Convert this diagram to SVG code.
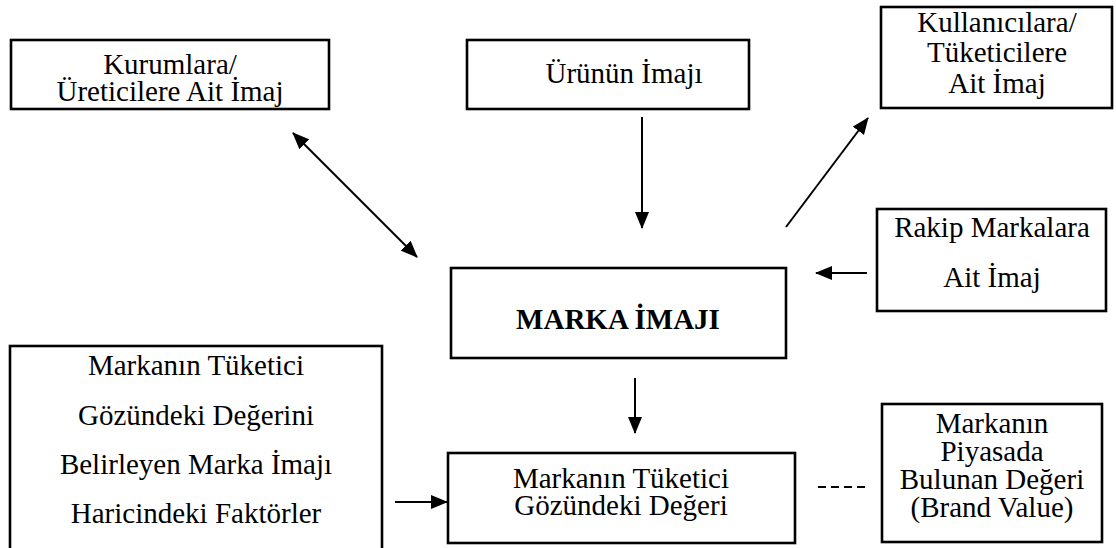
<svg xmlns="http://www.w3.org/2000/svg" width="1116" height="548" viewBox="0 0 1116 548">
<style>
.box{fill:#fff;stroke:#000;stroke-width:2.6}
.t{font-family:"Liberation Serif","Times New Roman",serif;font-size:29px;fill:#000;text-anchor:middle}
.b{font-weight:bold}
.c{stroke:#000;stroke-width:2;fill:none}
</style>
<defs>
<marker id="ah" markerUnits="userSpaceOnUse" markerWidth="17" markerHeight="14" refX="16" refY="7" orient="auto-start-reverse">
<path d="M0,0 L17,7 L0,14 z" fill="#000"/>
</marker>
</defs>
<rect width="1116" height="548" fill="#fff"/>
<g id="n-kurum">
<rect class="box" x="11" y="40" width="318" height="69"/>
<text class="t" x="170" y="74">Kurumlara/</text>
<text class="t" x="170" y="101">Üreticilere Ait İmaj</text>
</g>
<g id="n-urun">
<rect class="box" x="467" y="40" width="282" height="69"/>
<text class="t" x="624" y="83">Ürünün İmajı</text>
</g>
<g id="n-kullanici">
<rect class="box" x="881" y="7" width="231" height="101"/>
<text class="t" x="997" y="32">Kullanıcılara/</text>
<text class="t" x="997" y="62">Tüketicilere</text>
<text class="t" x="997" y="93">Ait İmaj</text>
</g>
<g id="n-rakip">
<rect class="box" x="877" y="209" width="229" height="102"/>
<text class="t" x="992" y="237">Rakip Markalara</text>
<text class="t" x="992" y="287">Ait İmaj</text>
</g>
<g id="n-marka">
<rect class="box" x="451" y="268" width="335" height="90"/>
<text class="t b" x="618" y="329">MARKA İMAJI</text>
</g>
<g id="n-faktor">
<rect class="box" x="10" y="346" width="372" height="220"/>
<text class="t" x="196" y="375">Markanın Tüketici</text>
<text class="t" x="196" y="425">Gözündeki Değerini</text>
<text class="t" x="196" y="474">Belirleyen Marka İmajı</text>
<text class="t" x="196" y="523">Haricindeki Faktörler</text>
</g>
<g id="n-deger">
<rect class="box" x="448" y="453" width="347" height="90"/>
<text class="t" x="621" y="488">Markanın Tüketici</text>
<text class="t" x="621" y="515">Gözündeki Değeri</text>
</g>
<g id="n-piyasa">
<rect class="box" x="882" y="404" width="220" height="138"/>
<text class="t" x="992" y="433">Markanın</text>
<text class="t" x="992" y="461">Piyasada</text>
<text class="t" x="992" y="489">Bulunan Değeri</text>
<text class="t" x="992" y="517">(Brand Value)</text>
</g>
<g id="connectors">
<line class="c" x1="293" y1="133" x2="417" y2="257" marker-start="url(#ah)" marker-end="url(#ah)"/>
<line class="c" x1="642" y1="117" x2="642" y2="228" marker-end="url(#ah)"/>
<line class="c" x1="786" y1="227" x2="868" y2="118" marker-end="url(#ah)"/>
<line class="c" x1="867" y1="273" x2="816" y2="273" marker-end="url(#ah)"/>
<line class="c" x1="635" y1="378" x2="635" y2="433" marker-end="url(#ah)"/>
<line class="c" x1="395" y1="502" x2="447" y2="502" marker-end="url(#ah)"/>
<line class="c" x1="818" y1="487" x2="866" y2="487" stroke-dasharray="8,5"/>
</g>
</svg>
